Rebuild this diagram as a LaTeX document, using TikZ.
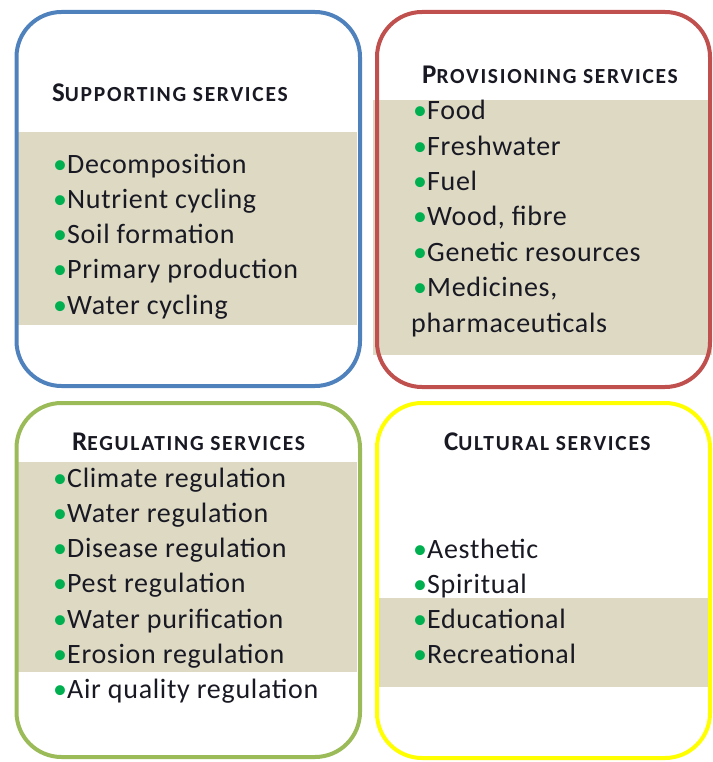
\documentclass[tikz,border=0pt]{standalone}
\usepackage{fontspec}
\setmainfont{Carlito}
\usetikzlibrary{positioning}

\definecolor{supblue}{RGB}{79,129,189}
\definecolor{provred}{RGB}{192,80,77}
\definecolor{reggreen}{RGB}{155,187,89}
\definecolor{culyellow}{RGB}{255,255,0}
\definecolor{tanband}{RGB}{221,217,195}
\definecolor{dotgreen}{RGB}{0,176,80}
\definecolor{ink}{RGB}{25,25,35}

% big first letter, rest in small capitals
\newcommand{\grpname}[2]{\addfontfeature{LetterSpace=8}%
  {\fontsize{27}{27}\selectfont #1}{\fontsize{21.5}{22}\selectfont #2}}
\newcommand{\dotitem}[1]{{\color{dotgreen}\textbullet}\addfontfeature{LetterSpace=2.5}#1}

\begin{document}
\begin{tikzpicture}[x=1pt,y=-1pt,
    box/.style={draw=#1,line width=4pt,rounded corners=45pt,rectangle,inner sep=0pt},
    grp/.style={anchor=base west,inner sep=0pt,font=\bfseries,text=ink},
    item/.style={anchor=base west,inner sep=0pt,font=\fontsize{28}{34}\selectfont,text=ink}]

    \useasboundingbox (0,0) rectangle (712,762);

    % shaded bands behind the lists
    \fill[tanband] (18,132) rectangle (357,325);
    \fill[tanband] (373,100) rectangle (712,355);
    \fill[tanband] (18,462) rectangle (357,672);
    \fill[tanband] (375,598) rectangle (712,687);

    % the four frames
    \node[box=supblue,minimum width=343.5pt,minimum height=374pt] (sup) at (188.25,199) {};
    \node[box=provred,minimum width=333pt,minimum height=375pt] (prov) at (543.5,199.5) {};
    \node[box=reggreen,minimum width=343.5pt,minimum height=354pt] (reg) at (188.25,580) {};
    \node[box=culyellow,minimum width=333pt,minimum height=355pt] (cul) at (543.5,580.5) {};

    % headings
    \node[grp] (sup-t) at (52,102) {\grpname{S}{UPPORTING SERVICES}};
    \node[grp] (prov-t) at (422,84) {\grpname{P}{ROVISIONING SERVICES}};
    \node[grp] (reg-t) at (72,450) {\grpname{R}{EGULATING SERVICES}};
    \node[grp] (cul-t) at (444,450) {\grpname{C}{ULTURAL SERVICES}};

    % lists
    \foreach \t [count=\i] in {Decomposition,Nutrient cycling,Soil formation,
                                Primary production,Water cycling}
        \node[item] (sup-\i) at (53,{173+35.3*(\i-1)}) {\dotitem{\t}};

    \foreach \t [count=\i] in {Food,Freshwater,Fuel,{Wood, fibre},
                                Genetic resources,{Medicines,}}
        \node[item] (prov-\i) at (413,{120+35.3*(\i-1)}) {\dotitem{\t}};
    \node[item] (prov-7) at (411,332) {\addfontfeature{LetterSpace=2.5}pharmaceuticals};

    \foreach \t [count=\i] in {Climate regulation,Water regulation,Disease regulation,
                                Pest regulation,Water purification,Erosion regulation,
                                Air quality regulation}
        \node[item] (reg-\i) at (53,{487+35.3*(\i-1)}) {\dotitem{\t}};

    \foreach \t [count=\i] in {Aesthetic,Spiritual,Educational,Recreational}
        \node[item] (cul-\i) at (413,{558+35*(\i-1)}) {\dotitem{\t}};

\end{tikzpicture}
\end{document}
